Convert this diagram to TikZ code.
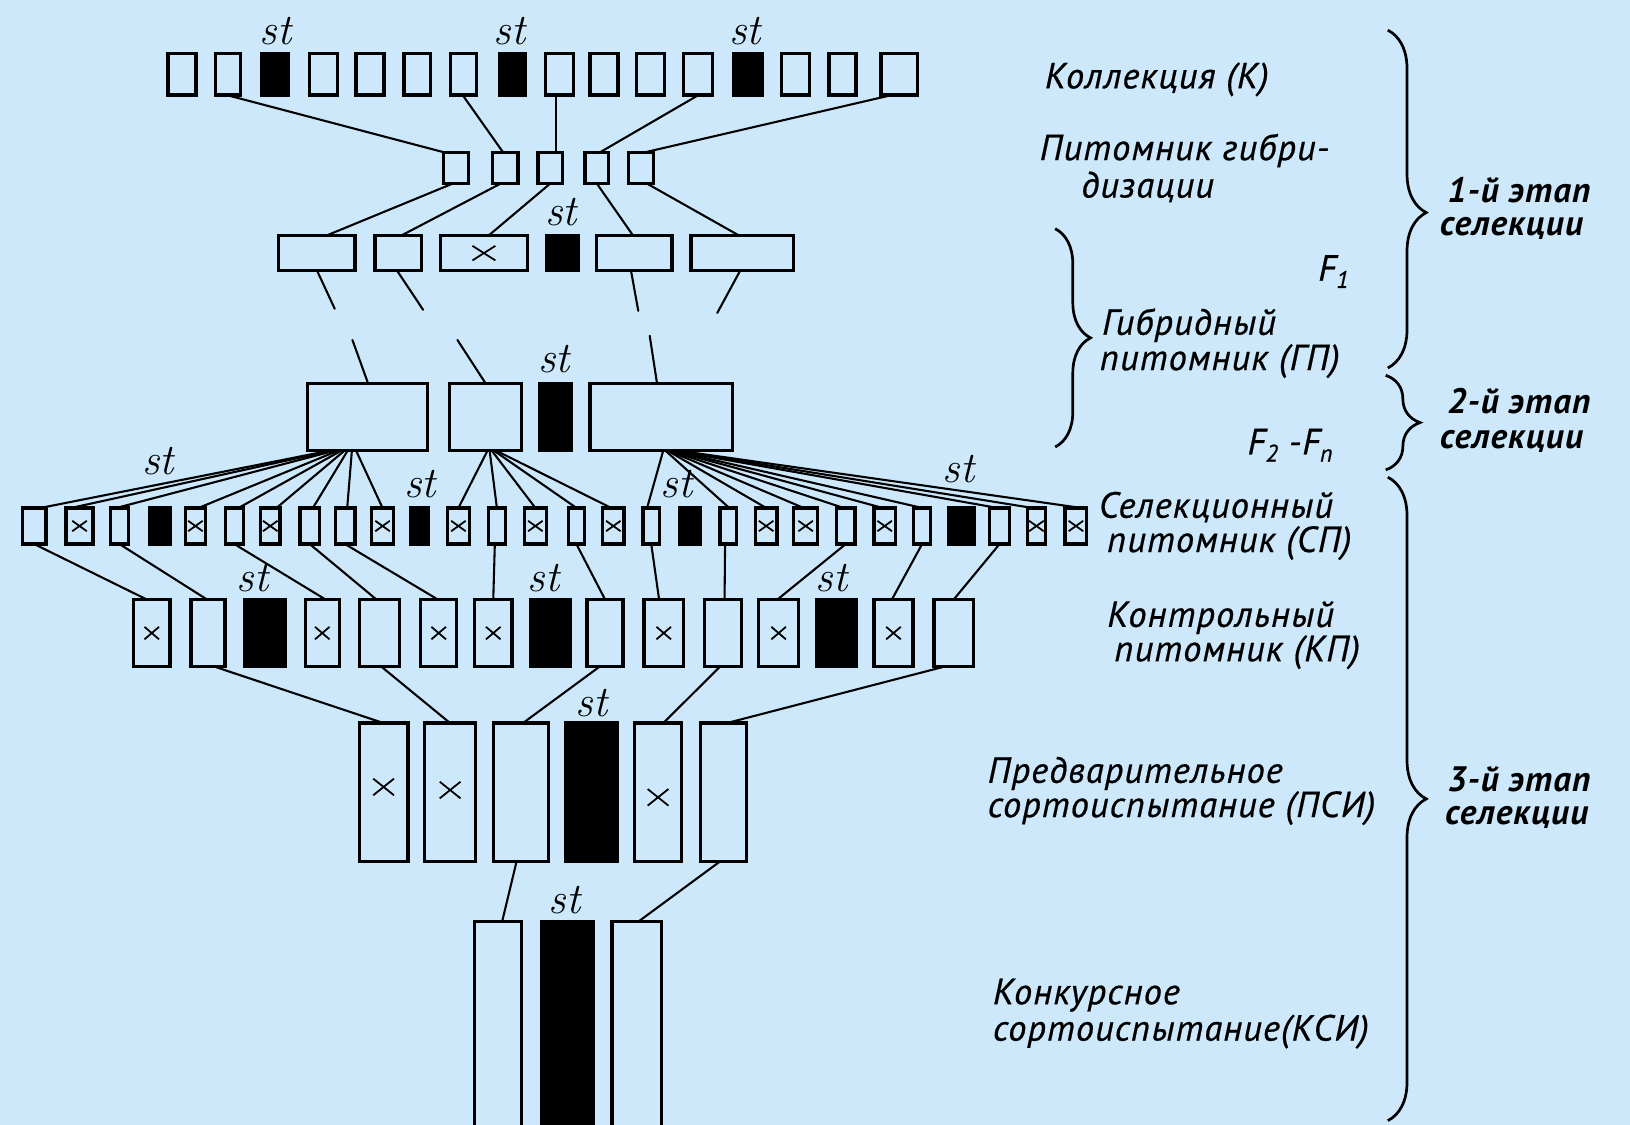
\documentclass[tikz,border=0pt]{standalone}
\usepackage{fontspec}
\newfontfamily\capfont{PT Sans}[LetterSpace=3, ItalicFeatures={FakeBold=0.6}]
\usetikzlibrary{calc,decorations.pathreplacing}
\definecolor{paper}{RGB}{204,232,250}

% plot cells: name, x-left, x-right, y-top, y-bottom, style
\newcommand\plotcell[6]{\node[#6, minimum width={#3-#2-3.2}, minimum height={#5-#4-3.2}] (#1) at ({(#2+#3)/2},{(#4+#5)/2}) {};}
% connector from the bottom of one cell to the top of another (horizontal offsets)
\newcommand\wireto[4]{\draw[wire] ([xshift=#2pt]#1.south) -- ([xshift=#4pt]#3.north);}
\newcommand\lowsub[1]{\raisebox{-0.4ex}{\fontsize{23}{23}\selectfont #1}}

\tikzset{
  cell/.style={draw=black, line width=3.2pt, inner sep=0pt, outer sep=0pt},
  cellf/.style={cell, fill=black},
  cellx/.style n args={3}{cell, path picture={
      \draw[line width=1.7pt]
        ([shift={({-(#1)},{-(#2)+(#3)})}]path picture bounding box.center) --
        ([shift={({#1},{(#2)+(#3)})}]path picture bounding box.center)
        ([shift={({-(#1)},{(#2)+(#3)})}]path picture bounding box.center) --
        ([shift={({#1},{-(#2)+(#3)})}]path picture bounding box.center);}},
  xF/.style={cellx={11}{7}{0}},
  xS/.style={cellx={7}{5}{0}},
  xK/.style={cellx={7}{6}{0}},
  xPa/.style={cellx={10}{8}{-5}},
  xPb/.style={cellx={10}{8}{-2}},
  xPc/.style={cellx={10}{8}{5}},
  wire/.style={line width=2pt, line cap=round},
  stlab/.style={font=\fontsize{42}{42}\selectfont\itshape, inner sep=0pt, anchor=base},
  caption/.style={font=\capfont\itshape\fontsize{35}{37}\selectfont, inner sep=0pt, anchor=base west},
  stage/.style={font=\capfont\bfseries\itshape\fontsize{34}{36}\selectfont, inner sep=0pt, anchor=base west},
  curly/.style={decorate, decoration={brace, amplitude=#1}, line width=2.6pt},
}

\begin{document}
\begin{tikzpicture}[x=1pt, y=-1pt]
\useasboundingbox (0,0) rectangle (1568,1082);
\fill[paper] (0,0) rectangle (1568,1082);

% ---- collection
\plotcell{k1}{160}{190}{50}{93}{cell}
\plotcell{k2}{206}{233}{50}{93}{cell}
\plotcell{k3}{250}{279}{50}{93}{cellf}
\plotcell{k4}{296}{326}{50}{93}{cell}
\plotcell{k5}{341}{371}{50}{93}{cell}
\plotcell{k6}{387}{416}{50}{93}{cell}
\plotcell{k7}{432}{460}{50}{93}{cell}
\plotcell{k8}{479}{507}{50}{93}{cellf}
\plotcell{k9}{523}{553}{50}{93}{cell}
\plotcell{k10}{566}{596}{50}{93}{cell}
\plotcell{k11}{611}{641}{50}{93}{cell}
\plotcell{k12}{656}{687}{50}{93}{cell}
\plotcell{k13}{704}{735}{50}{93}{cellf}
\plotcell{k14}{750}{780}{50}{93}{cell}
\plotcell{k15}{796}{825}{50}{93}{cell}
\plotcell{k16}{846}{884}{50}{93}{cell}

% ---- hybridisation nursery
\plotcell{h1}{425}{452}{145}{178}{cell}
\plotcell{h2}{472}{500}{145}{178}{cell}
\plotcell{h3}{516}{543}{145}{178}{cell}
\plotcell{h4}{561}{587}{145}{178}{cell}
\plotcell{h5}{603}{630}{145}{178}{cell}

% ---- F1
\plotcell{f1}{266}{343}{225}{262}{cell}
\plotcell{f2}{359}{407}{225}{262}{cell}
\plotcell{f3}{422}{509}{225}{262}{xF}
\plotcell{f4}{524}{558}{225}{262}{cellf}
\plotcell{f5}{572}{648}{225}{262}{cell}
\plotcell{f6}{663}{765}{225}{262}{cell}

% ---- F2 - Fn
\plotcell{g1}{294}{413}{367}{435}{cell}
\plotcell{g2}{431}{503}{367}{435}{cell}
\plotcell{g3}{518}{551}{367}{435}{cellf}
\plotcell{g4}{566}{706}{367}{435}{cell}

% ---- selection nursery
\plotcell{s1}{20}{46}{487}{525}{cell}
\plotcell{s2}{62}{91}{487}{525}{xS}
\plotcell{s3}{105}{125}{487}{525}{cell}
\plotcell{s4}{142}{165}{487}{525}{cellf}
\plotcell{s5}{177}{199}{487}{525}{xS}
\plotcell{s6}{215}{236}{487}{525}{cell}
\plotcell{s7}{249}{271}{487}{525}{xS}
\plotcell{s8}{287}{309}{487}{525}{cell}
\plotcell{s9}{321}{343}{487}{525}{cell}
\plotcell{s10}{356}{380}{487}{525}{xS}
\plotcell{s11}{393}{414}{487}{525}{cellf}
\plotcell{s12}{429}{453}{487}{525}{xS}
\plotcell{s13}{468}{488}{487}{525}{cell}
\plotcell{s14}{503}{527}{487}{525}{xS}
\plotcell{s15}{545}{564}{487}{525}{cell}
\plotcell{s16}{578}{602}{487}{525}{xS}
\plotcell{s17}{617}{636}{487}{525}{cell}
\plotcell{s18}{652}{675}{487}{525}{cellf}
\plotcell{s19}{691}{710}{487}{525}{cell}
\plotcell{s20}{725}{749}{487}{525}{xS}
\plotcell{s21}{762}{788}{487}{525}{xS}
\plotcell{s22}{803}{824}{487}{525}{cell}
\plotcell{s23}{839}{863}{487}{525}{xS}
\plotcell{s24}{877}{897}{487}{525}{cell}
\plotcell{s25}{911}{939}{487}{525}{cellf}
\plotcell{s26}{950}{973}{487}{525}{cell}
\plotcell{s27}{987}{1007}{487}{525}{xS}
\plotcell{s28}{1023}{1047}{487}{525}{xS}

% ---- control nursery
\plotcell{c1}{127}{165}{575}{643}{xK}
\plotcell{c2}{182}{218}{575}{643}{cell}
\plotcell{c3}{234}{276}{575}{643}{cellf}
\plotcell{c4}{292}{328}{575}{643}{xK}
\plotcell{c5}{344}{386}{575}{643}{cell}
\plotcell{c6}{403}{441}{575}{643}{xK}
\plotcell{c7}{455}{494}{575}{643}{xK}
\plotcell{c8}{509}{550}{575}{643}{cellf}
\plotcell{c9}{563}{601}{575}{643}{cell}
\plotcell{c10}{618}{659}{575}{643}{xK}
\plotcell{c11}{676}{715}{575}{643}{cell}
\plotcell{c12}{728}{770}{575}{643}{xK}
\plotcell{c13}{784}{825}{575}{643}{cellf}
\plotcell{c14}{839}{880}{575}{643}{xK}
\plotcell{c15}{897}{938}{575}{643}{cell}

% ---- preliminary variety trial
\plotcell{p1}{344}{394}{694}{830}{xPa}
\plotcell{p2}{407}{459}{694}{830}{xPb}
\plotcell{p3}{473}{529}{694}{830}{cell}
\plotcell{p4}{543}{595}{694}{830}{cellf}
\plotcell{p5}{609}{657}{694}{830}{xPc}
\plotcell{p6}{672}{720}{694}{830}{cell}

% ---- competitive variety trial
\plotcell{q1}{455}{503}{885}{1090}{cell}
\plotcell{q2}{519}{572}{885}{1090}{cellf}
\plotcell{q3}{587}{638}{885}{1090}{cell}

% ---- standards
\node[stlab] (st1) at (265,43) {st};
\node[stlab] (st2) at (490,43) {st};
\node[stlab] (st3) at (717,43) {st};
\node[stlab] (st4) at (540,217) {st};
\node[stlab] (st5) at (533,358) {st};
\node[stlab] (st6) at (152,456) {st};
\node[stlab] (st7) at (404,479) {st};
\node[stlab] (st8) at (651,479) {st};
\node[stlab] (st9) at (922,464) {st};
\node[stlab] (st10) at (243,569) {st};
\node[stlab] (st11) at (523,569) {st};
\node[stlab] (st12) at (800,569) {st};
\node[stlab] (st13) at (569,689) {st};
\node[stlab] (st14) at (543,879) {st};

% ---- collection -> hybridisation
\wireto{k2}{-1.5}{h1}{-11}
\wireto{k7}{-1}{h2}{-2}
\wireto{k9}{-3}{h3}{5.5}
\wireto{k12}{0.5}{h4}{3}
\wireto{k16}{-7}{h5}{3.5}

% ---- hybridisation -> F1
\wireto{h1}{-2.5}{f1}{9.5}
\wireto{h2}{-4}{f2}{3}
\wireto{h3}{0}{f3}{4.5}
\wireto{h4}{0}{f5}{-1}
\wireto{h5}{5.5}{f6}{-3}

% ---- broken lines F1 ... F2-Fn
\coordinate (d1) at (322,297);
\coordinate (d2) at (407,298);
\coordinate (d3) at (614,299);
\coordinate (d4) at (690,301);
\draw[wire] ([xshift=0.5pt]f1.south) -- (d1);
\draw[wire] ([xshift=-1pt]f2.south) -- (d2);
\draw[wire] ([xshift=-3pt]f5.south) -- (d3);
\draw[wire] ([xshift=-2pt]f6.south) -- (d4);
\coordinate (u1) at (339,327);
\coordinate (u2) at (440,327);
\coordinate (u3) at (625,323);
\draw[wire] (u1) -- ([xshift=0.5pt]g1.north);
\draw[wire] (u2) -- (g2.north);
\draw[wire] (u3) -- ([xshift=-4pt]g4.north);

% ---- F2-Fn -> selection nursery
\wireto{g1}{-36}{s1}{6}
\wireto{g1}{-34}{s2}{-8}
\wireto{g1}{-31}{s3}{-3}
\wireto{g1}{-28}{s5}{3}
\wireto{g1}{-25}{s6}{4}
\wireto{g1}{-22}{s7}{6}
\wireto{g1}{-19}{s8}{3}
\wireto{g1}{-15}{s9}{2}
\wireto{g1}{-11}{s10}{0}
\wireto{g2}{2}{s12}{0}
\wireto{g2}{4}{s13}{0}
\wireto{g2}{6}{s14}{0}
\wireto{g2}{8}{s15}{0}
\wireto{g2}{10}{s16}{-2}
\wireto{g4}{2}{s17}{-4}
\wireto{g4}{4}{s19}{1}
\wireto{g4}{6}{s20}{0}
\wireto{g4}{7}{s21}{-2}
\wireto{g4}{8}{s22}{-2}
\wireto{g4}{10}{s23}{-2}
\wireto{g4}{11}{s24}{0}
\wireto{g4}{12}{s26}{-2}
\wireto{g4}{14}{s27}{-4}
\wireto{g4}{16}{s28}{5}

% ---- selection -> control nursery
\wireto{s1}{0}{c1}{-5}
\wireto{s3}{0}{c2}{-1}
\wireto{s6}{0}{c4}{3}
\wireto{s8}{0}{c5}{-3}
\wireto{s9}{0}{c6}{-1}
\wireto{s13}{-2}{c7}{0}
\wireto{s15}{0}{c9}{0}
\wireto{s17}{0}{c10}{-4.5}
\wireto{s19}{-3}{c11}{1.5}
\wireto{s22}{0}{c12}{-1}
\wireto{s24}{0}{c14}{-1.5}
\wireto{s26}{0}{c15}{0}

% ---- control -> preliminary trial
\wireto{c2}{6.7}{p1}{0}
\wireto{c5}{2}{p2}{0}
\wireto{c9}{-5.4}{p3}{2}
\wireto{c11}{-3}{p5}{5}
\wireto{c15}{-9.6}{p6}{3}

% ---- preliminary -> competitive trial
\wireto{p3}{-4}{q1}{4}
\wireto{p6}{-3}{q3}{1.5}

% ---- captions
\node[caption] (tK) at (1005,85) {Коллекция (К)};
\node[caption] (tH1) at (1000,154) {Питомник гибри-};
\node[caption] (tH2) at (1040,190) {дизации};
\node[caption] (tF1) at (1268,270) {F\lowsub{1}};
\node[caption] (tG1) at (1060,322) {Гибридный};
\node[caption] (tG2) at (1058,356) {питомник (ГП)};
\node[caption] (tF2) at (1200,437) {F\lowsub{2} -F\lowsub{п}};
\node[caption] (tS1) at (1057,498) {Селекционный};
\node[caption] (tS2) at (1065,531) {питомник (СП)};
\node[caption] (tC1) at (1065,603) {Контрольный};
\node[caption] (tC2) at (1072,636) {питомник (КП)};
\node[caption] (tP1) at (950,753) {Предварительное};
\node[caption] (tP2) at (950,786) {сортоиспытание (ПСИ)};
\node[caption] (tQ1) at (955,966) {Конкурсное};
\node[caption] (tQ2) at (955,1001) {сортоиспытание(КСИ)};

\node[stage] (e1a) at (1392,195) {1-й этап};
\node[stage] (e1b) at (1385,227) {селекции};
\node[stage] (e2a) at (1392,398) {2-й этап};
\node[stage] (e2b) at (1385,431) {селекции};
\node[stage] (e3a) at (1392,761) {3-й этап};
\node[stage] (e3b) at (1390,793) {селекции};

% ---- braces
\draw[curly=34] (1015,220) -- (1015,430);
\draw[curly=37, decoration={aspect=0.54}] (1335,29) -- (1335,354);
\draw[curly=33] (1333,361) -- (1333,452);
\draw[curly=37] (1335,459) -- (1335,1078);
\end{tikzpicture}
\end{document}
